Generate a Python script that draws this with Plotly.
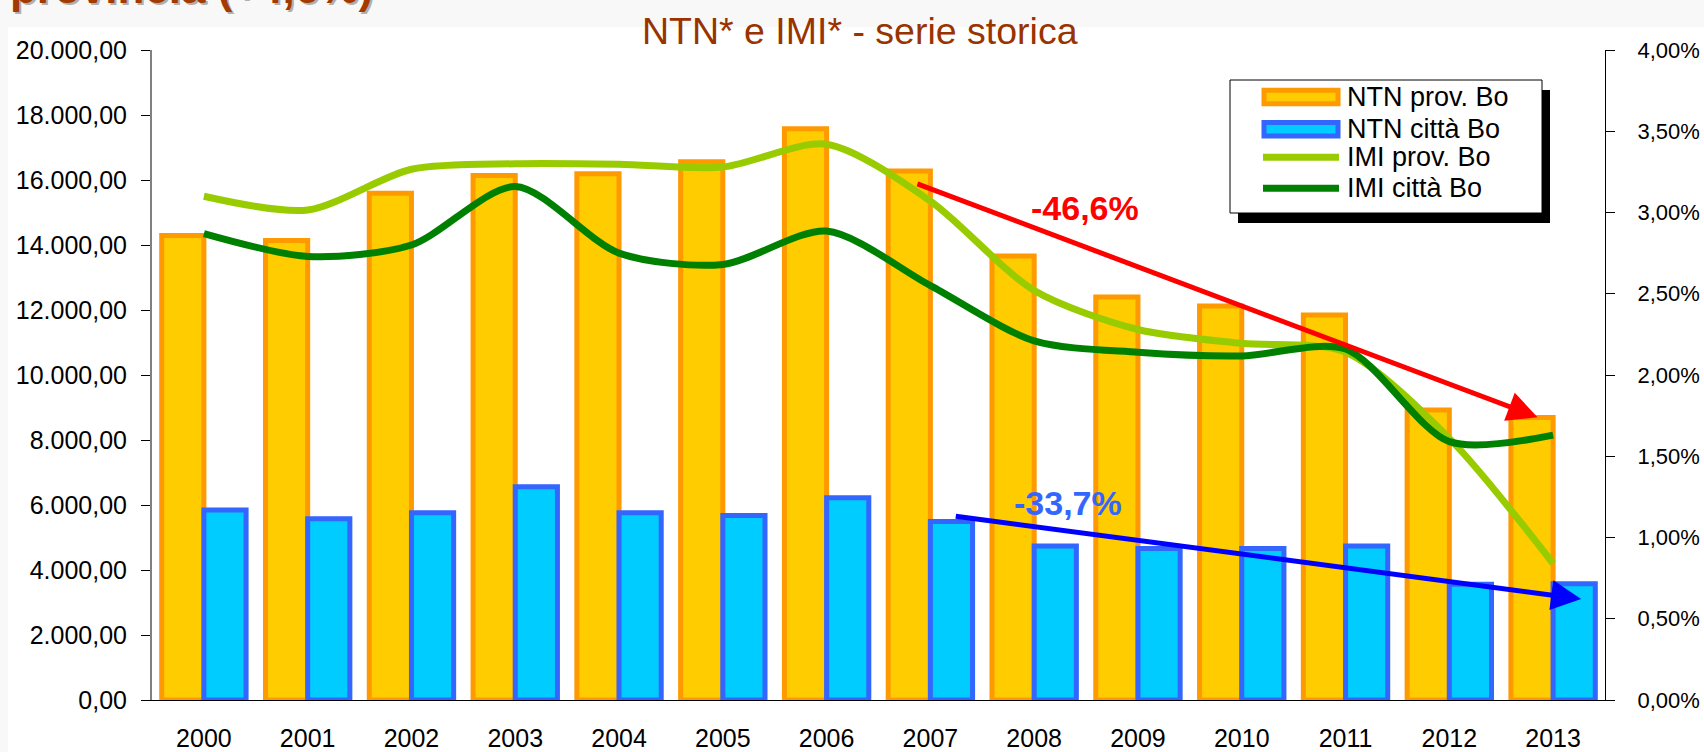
import plotly.graph_objects as go

# ---------------- data ----------------
years = [2000, 2001, 2002, 2003, 2004, 2005, 2006, 2007, 2008, 2009, 2010, 2011, 2012, 2013]
year_labels = [str(y) for y in years]
ntn_prov = [14290, 14140, 15590, 16140, 16190, 16560, 17580, 16275, 13660, 12400, 12120, 11845, 8920, 8690]
ntn_citta = [5850, 5580, 5765, 6565, 5765, 5680, 6225, 5490, 4740, 4660, 4660, 4740, 3560, 3580]
imi_prov = [3.10, 3.015, 3.266, 3.30, 3.297, 3.28, 3.42, 3.07, 2.52, 2.28, 2.195, 2.14, 1.61, 0.84]
imi_citta = [2.87, 2.73, 2.80, 3.16, 2.75, 2.68, 2.886, 2.55, 2.21, 2.14, 2.117, 2.16, 1.59, 1.63]
left_ticks = [0, 2000, 4000, 6000, 8000, 10000, 12000, 14000, 16000, 18000, 20000]
right_ticks = [0, 0.5, 1.0, 1.5, 2.0, 2.5, 3.0, 3.5, 4.0]
right_labels = [f"{v:.2f}".replace(".", ",") + "%" for v in right_ticks]
cat_bounds = [1999.5 + i for i in range(15)]
series_names = ["NTN prov. Bo", "NTN città Bo", "IMI prov. Bo", "IMI città Bo"]
trend_labels = ["-46,6%", "-33,7%"]

FONT = "Liberation Sans, Arial, sans-serif"
C_ORANGE_FILL, C_ORANGE_LINE = "#FFCC00", "#FF9900"
C_BLUE_FILL, C_BLUE_LINE = "#00CCFF", "#3366FF"
C_LGREEN, C_DGREEN = "#99CC00", "#008000"
TITLE_COLOR = "#993300"

# plot area in pixels
L, R, T, B = 152, 1605, 50, 700
W, H = R - L, B - T


def px(x):
    return (x - L) / W


def py(y):
    return (B - y) / H


fig = go.Figure()
fig.add_bar(x=years, y=ntn_prov, name=series_names[0],
            marker=dict(color=C_ORANGE_FILL, line=dict(color=C_ORANGE_LINE, width=5)))
fig.add_bar(x=years, y=ntn_citta, name=series_names[1],
            marker=dict(color=C_BLUE_FILL, line=dict(color=C_BLUE_LINE, width=5)))
fig.add_scatter(x=years, y=imi_prov, name=series_names[2], yaxis="y2", mode="lines",
                line=dict(color=C_LGREEN, width=7, shape="spline", smoothing=0.8))
fig.add_scatter(x=years, y=imi_citta, name=series_names[3], yaxis="y2", mode="lines",
                line=dict(color=C_DGREEN, width=7, shape="spline", smoothing=0.8))

xr = [1999.5, 2013.5]
common = dict(showgrid=False, zeroline=False, automargin=False)
fig.update_layout(
    width=1704, height=752,
    margin=dict(l=L, r=1704 - R, t=T, b=752 - B, pad=0, autoexpand=False),
    paper_bgcolor="#F8F8F8", plot_bgcolor="rgba(0,0,0,0)",
    separators=",.",
    showlegend=False,
    barmode="group", bargap=0.187, bargroupgap=0,
    font=dict(family=FONT, color="black", size=25),
    xaxis=dict(range=xr, tickvals=years, ticktext=year_labels, ticks="",
               showline=True, linecolor="black", linewidth=1,
               tickfont=dict(size=25), ticklabelstandoff=16, **common),
    xaxis2=dict(range=xr, overlaying="x", anchor="y", tickvals=cat_bounds, ticks="outside",
                ticklen=9, tickcolor="black", showticklabels=False, showline=False, **common),
    xaxis3=dict(range=xr, overlaying="x", anchor="y", tickvals=cat_bounds, ticks="inside",
                ticklen=9, tickcolor="black", showticklabels=False, showline=False, **common),
    yaxis=dict(range=[0, 20000], tickvals=left_ticks, tickformat=",.2f", ticks="outside",
               ticklen=9, tickcolor="black", showline=True, linecolor="#808080", linewidth=2,
               tickfont=dict(size=25), ticklabelstandoff=9, **common),
    yaxis3=dict(range=[0, 20000], overlaying="y", anchor="x", side="left", tickvals=left_ticks,
                ticks="inside", ticklen=9, tickcolor="black", showticklabels=False,
                showline=False, **common),
    yaxis2=dict(range=[0, 4], overlaying="y", anchor="x", side="right", tickvals=right_ticks,
                ticktext=right_labels, ticks="outside", ticklen=9, tickcolor="black",
                showline=True, linecolor="black", linewidth=1, tickfont=dict(size=22),
                ticklabelstandoff=18, **common),
    yaxis4=dict(range=[0, 4], overlaying="y", anchor="x", side="right", tickvals=right_ticks,
                ticks="inside", ticklen=9, tickcolor="black", showticklabels=False,
                showline=False, **common),
)

shapes = []
# white chart area over the light-grey page
shapes.append(dict(type="rect", xref="paper", yref="paper", x0=px(8), x1=px(1710),
                   y0=py(760), y1=py(27), fillcolor="white", line=dict(width=0), layer="below"))
# legend shadow + box
shapes.append(dict(type="rect", xref="paper", yref="paper", x0=px(1238), x1=px(1550),
                   y0=py(223), y1=py(90), fillcolor="black", line=dict(width=0)))
shapes.append(dict(type="rect", xref="paper", yref="paper", x0=px(1230), x1=px(1542),
                   y0=py(213), y1=py(80), fillcolor="white", line=dict(color="black", width=1)))
rows = [97, 129.3, 157.3, 188.3]
shapes.append(dict(type="rect", xref="paper", yref="paper", x0=px(1264), x1=px(1338),
                   y0=py(rows[0] + 6.7), y1=py(rows[0] - 6.7), fillcolor=C_ORANGE_FILL,
                   line=dict(color=C_ORANGE_LINE, width=5)))
shapes.append(dict(type="rect", xref="paper", yref="paper", x0=px(1264), x1=px(1338),
                   y0=py(rows[1] + 6.7), y1=py(rows[1] - 6.7), fillcolor=C_BLUE_FILL,
                   line=dict(color=C_BLUE_LINE, width=5)))
shapes.append(dict(type="line", xref="paper", yref="paper", x0=px(1263), x1=px(1339),
                   y0=py(rows[2]), y1=py(rows[2]), line=dict(color=C_LGREEN, width=7)))
shapes.append(dict(type="line", xref="paper", yref="paper", x0=px(1263), x1=px(1339),
                   y0=py(rows[3]), y1=py(rows[3]), line=dict(color=C_DGREEN, width=7)))

annotations = []
for name, r in zip(series_names, rows):
    annotations.append(dict(xref="paper", yref="paper", x=px(1345), y=py(r), text=name,
                            showarrow=False, xanchor="left", yanchor="middle",
                            font=dict(size=27, color="black", family=FONT)))

# chart title
annotations.append(dict(xref="paper", yref="paper", x=px(860), y=py(31),
                        text="NTN* e IMI* - serie storica", showarrow=False,
                        xanchor="center", yanchor="middle",
                        font=dict(size=37.5, color=TITLE_COLOR, family=FONT)))
# slide heading cut off at the top of the picture (shadow + text)
annotations.append(dict(xref="paper", yref="paper", x=px(377), y=py(16),
                        text="<b>Bologna e provincia (+4,6%)</b>", showarrow=False,
                        xanchor="right", yanchor="bottom",
                        font=dict(size=44, color="#B0B0B0", family=FONT)))
annotations.append(dict(xref="paper", yref="paper", x=px(375), y=py(14),
                        text="<b>Bologna e provincia (+4,6%)</b>", showarrow=False,
                        xanchor="right", yanchor="bottom",
                        font=dict(size=44, color="#A33A00", family=FONT)))

# trend arrows
annotations.append(dict(xref="x", yref="y", axref="x", ayref="y",
                        x=2012.85, y=8700, ax=2006.86, ay=15900, text="",
                        showarrow=True, arrowhead=2, arrowsize=1.2, arrowwidth=5,
                        arrowcolor="#FF0000"))
annotations.append(dict(xref="x", yref="y", axref="x", ayref="y",
                        x=2013.27, y=3108, ax=2007.23, ay=5662, text="",
                        showarrow=True, arrowhead=2, arrowsize=1.2, arrowwidth=5,
                        arrowcolor="#0000FF"))
annotations.append(dict(xref="x", yref="y", x=2008.49, y=15150, text="<b>" + trend_labels[0] + "</b>",
                        showarrow=False, font=dict(size=34, color="#FF0000", family=FONT)))
annotations.append(dict(xref="x", yref="y", x=2008.33, y=6050, text="<b>" + trend_labels[1] + "</b>",
                        showarrow=False, font=dict(size=34, color=C_BLUE_LINE, family=FONT)))

fig.update_layout(shapes=shapes, annotations=annotations)
fig.write_html("out.html", config={"displayModeBar": False},
               post_script="document.body.style.margin='0px';document.body.style.overflow='hidden';")
